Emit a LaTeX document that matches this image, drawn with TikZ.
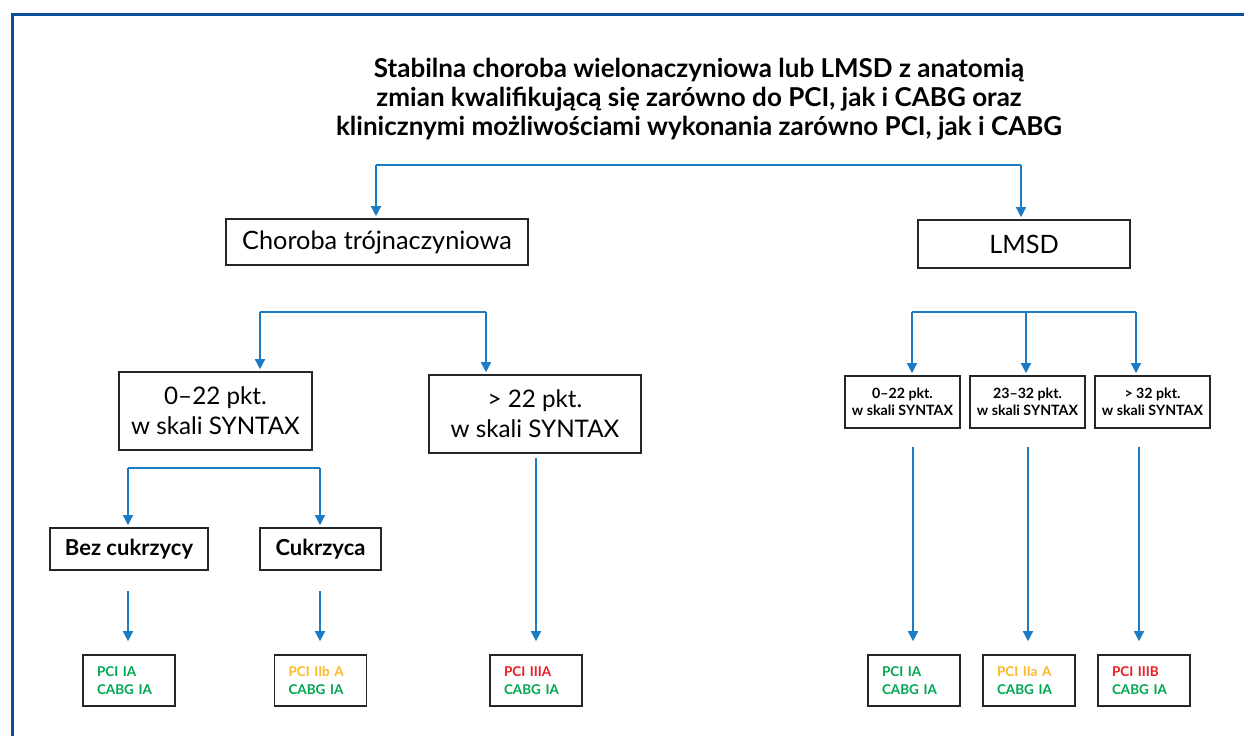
\documentclass[tikz,border=0pt]{standalone}
\usepackage{fontspec}
\setmainfont{Lato}
\usetikzlibrary{arrows.meta}

\definecolor{ramka}{HTML}{0B4F9C}
\definecolor{strz}{HTML}{1B7BC3}
\definecolor{zielony}{HTML}{00A650}
\definecolor{pomar}{HTML}{FDB827}
\definecolor{czerw}{HTML}{ED1C24}

\begin{document}
\begin{tikzpicture}[x=1pt,y=-1pt,
	box/.style={draw=black!85, line width=1.6pt, inner sep=0pt, align=center},
	wynik/.style={box, minimum width=92, minimum height=51, inner xsep=14pt, text width=64pt, font=\bfseries\fontsize{13.5}{18}\selectfont, align=left},
	mala/.style={box, minimum width=115, minimum height=52, font=\bfseries\fontsize{14.2}{17}\selectfont},
	linia/.style={draw=strz, line width=1.4pt},
	strzalka/.style={linia, -{Triangle[length=10pt,width=10pt]}}]
\useasboundingbox (0,0) rectangle (1244,736);
%ramka
\draw[ramka, line width=3pt] (12,736) -- (12,14) -- (1244,14);

\node[font=\bfseries\fontsize{26}{29}\selectfont, align=center] (tytul) at (699,99)
	{Stabilna choroba wielonaczyniowa lub LMSD z anatomią\\
	 zmian kwalifikującą się zarówno do PCI, jak i CABG oraz\\
	 klinicznymi możliwościami wykonania zarówno PCI, jak i CABG};

%poziom 1
\node[box, minimum width=302, minimum height=46, font=\fontsize{25.3}{28}\selectfont] (troj) at (377,242) {Choroba trójnaczyniowa};
\node[box, minimum width=212, minimum height=48, font=\fontsize{25.3}{28}\selectfont] (lmsd) at (1024,244) {LMSD};

%poziom 2
\node[box, minimum width=193, minimum height=78, font=\fontsize{24.2}{30}\selectfont] (p022) at (215.5,411) {0–22 pkt.\\w skali SYNTAX};
\node[box, minimum width=212, minimum height=78, font=\fontsize{24.2}{30}\selectfont] (p22) at (535,414) {> 22 pkt.\\w skali SYNTAX};
\node[mala] (m022) at (902.5,402) {0–22 pkt.\\w skali SYNTAX};
\node[mala] (m2332) at (1027.5,402) {23–32 pkt.\\w skali SYNTAX};
\node[mala] (m32) at (1152.5,402) {> 32 pkt.\\w skali SYNTAX};

%poziom 3
\node[box, minimum width=158, minimum height=42, font=\bfseries\fontsize{22}{25}\selectfont] (bez) at (129,549) {Bez cukrzycy};
\node[box, minimum width=121, minimum height=42, font=\bfseries\fontsize{22}{25}\selectfont] (cuk) at (320.5,549) {Cukrzyca};

%zalecenia
\node[wynik] (w1) at (129,680.5) {\color{zielony}PCI IA\\\color{zielony}CABG IA};
\node[wynik] (w2) at (320.5,680.5) {\color{pomar}PCI IIb\ A\\\color{zielony}CABG IA};
\node[wynik] (w3) at (536,680.5) {\color{czerw}PCI IIIA\\\color{zielony}CABG IA};
\node[wynik] (w4) at (914,680.5) {\color{zielony}PCI IA\\\color{zielony}CABG IA};
\node[wynik] (w5) at (1029,680.5) {\color{pomar}PCI IIa\ A\\\color{zielony}CABG IA};
\node[wynik] (w6) at (1144,680.5) {\color{czerw}PCI IIIB\\\color{zielony}CABG IA};

%szyny
\coordinate (s1l) at (376,165); \coordinate (s1p) at (1021,165);
\coordinate (s2l) at (260,312); \coordinate (s2p) at (486,312);
\coordinate (s3l) at (912,312); \coordinate (s3s) at (1026,312); \coordinate (s3p) at (1136,312);
\coordinate (s4l) at (128,468); \coordinate (s4p) at (320,468);

\draw[linia] (s1l) -- (s1p);
\draw[linia] (s2l) -- (s2p);
\draw[linia] (s3l) -- (s3p);
\draw[linia] (s4l) -- (s4p);

\foreach \s/\n in {s1l/troj, s1p/lmsd, s2l/p022, s2p/p22, s3l/m022, s3s/m2332, s3p/m32, s4l/bez, s4p/cuk}
	\draw[strzalka, shorten >=2pt] (\s) -- (\s |- \n.north);

%strzalki do zalecen
\foreach \n/\w/\x/\g in {bez/w1/128/20, cuk/w2/320/20, p22/w3/536/4, m022/w4/913/18, m2332/w5/1028/18, m32/w6/1139/18}
	\draw[strzalka, shorten <=\g pt, shorten >=13pt] (\x,0 |- \n.south) -- (\x,0 |- \w.north);

\end{tikzpicture}
\end{document}
